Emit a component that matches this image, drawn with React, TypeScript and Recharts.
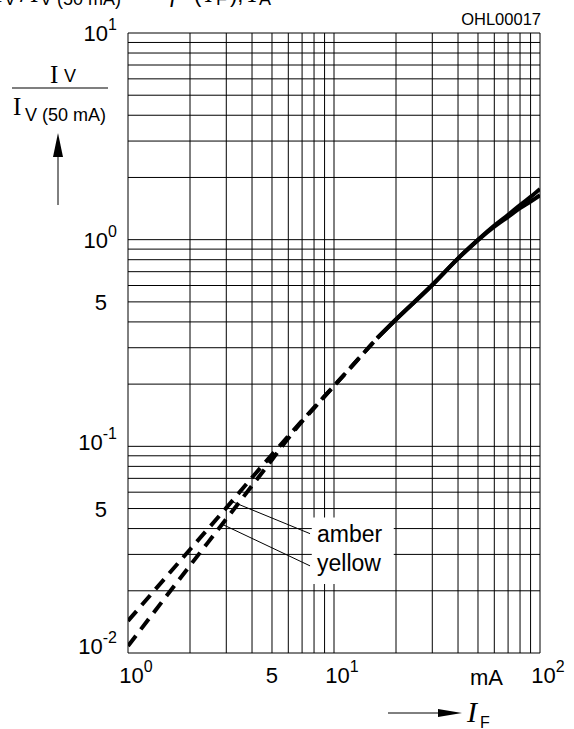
import { LineChart, Line, XAxis, YAxis, CartesianGrid, ReferenceArea, ReferenceLine } from 'recharts';

const currentTicks = [1, 2, 3, 4, 5, 6, 7, 8, 9, 10, 20, 30, 40, 50, 60, 70, 80, 90, 100];
const ratioTicks = [
  0.01, 0.02, 0.03, 0.04, 0.05, 0.06, 0.07, 0.08, 0.09,
  0.1, 0.2, 0.3, 0.4, 0.5, 0.6, 0.7, 0.8, 0.9,
  1, 2, 3, 4, 5, 6, 7, 8, 9, 10,
];

// low current part, drawn dashed
const lowCurrent = [1, 2, 3, 4, 5, 6, 7, 8, 10, 16.2];
const amberLow = [0.0143, 0.0317, 0.0504, 0.0706, 0.0912, 0.112, 0.133, 0.154, 0.196, 0.334];
const yellowLow = [0.0108, 0.0265, 0.0445, 0.0645, 0.0862, 0.1095, 0.132, 0.153, 0.196, 0.334];

// high current part, drawn solid
const highCurrent = [16.2, 20, 30, 40, 50, 60, 70, 80, 90, 100];
const amberHigh = [0.334, 0.412, 0.605, 0.812, 1.0, 1.17, 1.32, 1.47, 1.61, 1.76];
const yellowHigh = [0.334, 0.41, 0.603, 0.81, 0.995, 1.155, 1.29, 1.42, 1.53, 1.64];

// leader lines from the curves to the names
const amberLeader = [{ i: 3.2, v: 0.054 }, { i: 7.65, v: 0.0378 }];
const yellowLeader = [{ i: 2.89, v: 0.0418 }, { i: 7.65, v: 0.0264 }];

const toPoints = (xs: number[], ys: number[]) => xs.map((i, k) => ({ i, v: ys[k] }));

const sans = 'Liberation Sans, Arial, sans-serif';
const serif = 'Liberation Serif, Times New Roman, serif';

const decadeExp: Record<string, string> = { '1': '0', '10': '1', '100': '2' };
const ratioExp: Record<string, string> = { '10': '1', '1': '0', '0.1': '-1', '0.01': '-2' };
const ratioShift: Record<string, number> = { '10': 8, '1': 8, '0.1': 4, '0.01': 1 };

function CurrentTick(props: any) {
  const { x, y, payload } = props;
  const v = payload.value;
  if (v === 5) {
    return (
      <text x={x} y={y + 30} textAnchor="middle" fontFamily={sans} fontSize={22} fill="#000">5</text>
    );
  }
  const exp = decadeExp[String(v)];
  if (exp === undefined) return <g />;
  return (
    <text x={x + 8} y={y + 30} textAnchor="middle" fontFamily={sans} fontSize={22} fill="#000">
      10<tspan dy={-11} fontSize={16}>{exp}</tspan>
    </text>
  );
}

function RatioTick(props: any) {
  const { x, y, payload } = props;
  const v = payload.value;
  if (v === 0.5 || v === 0.05) {
    return (
      <text x={x - 21} y={y + 8} textAnchor="end" fontFamily={sans} fontSize={22} fill="#000">5</text>
    );
  }
  const exp = ratioExp[String(v)];
  if (exp === undefined) return <g />;
  return (
    <text x={x - 11} y={y + ratioShift[String(v)]} textAnchor="end" fontFamily={sans} fontSize={22} fill="#000">
      10<tspan dy={-11} fontSize={16}>{exp}</tspan>
    </text>
  );
}

export default function App() {
  return (
    <div style={{ position: 'absolute', left: 0, top: 0, width: 574, height: 729, background: '#fff' }}>
      <LineChart width={574} height={729} margin={{ top: 33, right: 34, bottom: 0, left: 0 }}>
        <CartesianGrid stroke="#000" strokeWidth={1} />
        <XAxis
          dataKey="i"
          type="number"
          scale="log"
          domain={[1, 100]}
          allowDataOverflow
          ticks={currentTicks}
          interval={0}
          axisLine={false}
          tickLine={false}
          tickSize={0}
          tickMargin={0}
          height={76}
          tick={CurrentTick}
        />
        <YAxis
          dataKey="v"
          type="number"
          scale="log"
          domain={[0.01, 10]}
          allowDataOverflow
          ticks={ratioTicks}
          interval={0}
          axisLine={false}
          tickLine={false}
          tickSize={0}
          tickMargin={0}
          width={128}
          tick={RatioTick}
        />
        <ReferenceArea x1={7.8} x2={19.5} y1={0.0216} y2={0.0452} fill="#fff" fillOpacity={1} stroke="none" />
        <ReferenceLine segment={amberLeader.map((p) => ({ x: p.i, y: p.v }))} stroke="#000" strokeWidth={1} />
        <ReferenceLine segment={yellowLeader.map((p) => ({ x: p.i, y: p.v }))} stroke="#000" strokeWidth={1} />
        <Line data={toPoints(lowCurrent, amberLow)} dataKey="v" type="monotone" stroke="#000" strokeWidth={4} strokeDasharray="13 8" dot={false} isAnimationActive={false} />
        <Line data={toPoints(lowCurrent, yellowLow)} dataKey="v" type="monotone" stroke="#000" strokeWidth={4} strokeDasharray="13 8" dot={false} isAnimationActive={false} />
        <Line data={toPoints(highCurrent, amberHigh)} dataKey="v" type="monotone" stroke="#000" strokeWidth={4} dot={false} isAnimationActive={false} />
        <Line data={toPoints(highCurrent, yellowHigh)} dataKey="v" type="monotone" stroke="#000" strokeWidth={4} dot={false} isAnimationActive={false} />
      </LineChart>

      <svg width={574} height={729} style={{ position: 'absolute', left: 0, top: 0, pointerEvents: 'none' }}>
        {/* title, cut off at the top edge as in the source */}
        <g fill="#000">
          <text x={-6} y={2} fontFamily={serif} fontSize={25}>I</text>
          <text x={4} y={5} fontFamily={sans} fontSize={18}>V</text>
          <text x={20} y={2} fontFamily={sans} fontSize={22}>/</text>
          <text x={30} y={2} fontFamily={serif} fontSize={25}>I</text>
          <text x={40} y={5} fontFamily={sans} fontSize={18}>V (50 mA)</text>
          <text x={144} y={2} fontFamily={sans} fontSize={22}>=</text>
          <text x={170} y={2} fontFamily={serif} fontStyle="italic" fontSize={25}>f</text>
          <text x={194} y={2} fontFamily={sans} fontSize={22}>(</text>
          <text x={205} y={2} fontFamily={serif} fontStyle="italic" fontSize={25}>I</text>
          <text x={216} y={5} fontFamily={sans} fontSize={18}>F</text>
          <text x={230} y={2} fontFamily={sans} fontSize={22}>),</text>
          <text x={246} y={2} fontFamily={serif} fontStyle="italic" fontSize={25}>T</text>
          <text x={259} y={5} fontFamily={sans} fontSize={18}>A</text>
        </g>

        <text x={541} y={25} textAnchor="end" fontFamily={sans} fontSize={16.5} fill="#000">OHL00017</text>

        {/* y axis title */}
        <text x={50} y={83} fontFamily={serif} fontSize={25} fill="#000">I</text>
        <text x={64} y={82} fontFamily={sans} fontSize={18} fill="#000">V</text>
        <line x1={12} x2={108} y1={88} y2={88} stroke="#555" strokeWidth={1.5} />
        <text x={13} y={115} fontFamily={serif} fontSize={25} fill="#000">I</text>
        <text x={25} y={121} fontFamily={sans} fontSize={18} fill="#000">V (50 mA)</text>
        <line x1={58} x2={58} y1={205} y2={150} stroke="#000" strokeWidth={1} />
        <polygon points="58,133 53,157 63,157" fill="#000" />

        {/* x axis title */}
        <text x={470} y={685} fontFamily={sans} fontSize={22} fill="#000">mA</text>
        <line x1={388} x2={445} y1={713} y2={713} stroke="#000" strokeWidth={1} />
        <polygon points="462,713 438,709 438,717" fill="#000" />
        <text x={467} y={722} fontFamily={serif} fontStyle="italic" fontSize={30} fill="#000">I</text>
        <text x={480} y={728} fontFamily={sans} fontSize={16} fill="#000">F</text>

        {/* curve names */}
        <text x={317} y={542} fontFamily={sans} fontSize={23} fill="#000">amber</text>
        <text x={317} y={571} fontFamily={sans} fontSize={23} fill="#000">yellow</text>
      </svg>
    </div>
  );
}
